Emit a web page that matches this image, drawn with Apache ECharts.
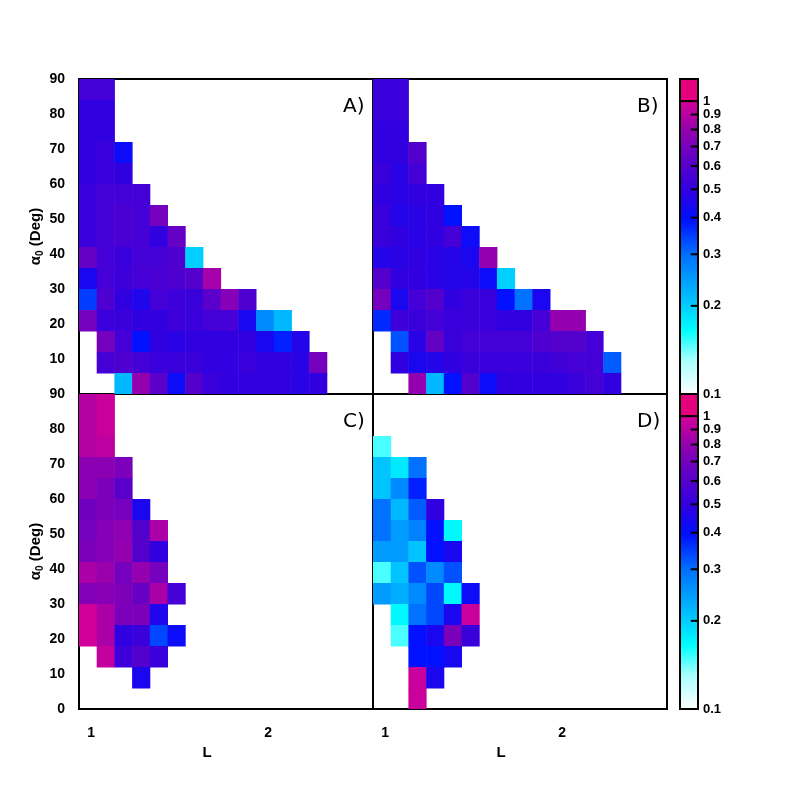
<!DOCTYPE html>
<html><head><meta charset="utf-8">
<script src="https://cdn.jsdelivr.net/npm/echarts@6/dist/echarts.min.js"></script>
<style>html,body{margin:0;padding:0;background:#fff}#c{width:788px;height:788px}</style>
</head><body><div id="c"></div>
<script>
// Bins: L from L0 in steps of dL (columns), alpha0 in steps of dA degrees (rows, 0 = 0-6 deg)
const L0 = 0.932, dL = 0.1, dA = 6;
const panelLabels = ['A)', 'B)', 'C)', 'D)'];
const xTickLabels = [1, 2];
const yTickLabels = [0, 10, 20, 30, 40, 50, 60, 70, 80, 90];
const colorbarTicks = [0.1, 0.2, 0.3, 0.4, 0.5, 0.6, 0.7, 0.8, 0.9, 1];
// each row: [rowIndex, firstColumn, values...]
const panelA = [
 [14,0,0.55,0.55],[13,0,0.5,0.5],[12,0,0.5,0.5],[11,0,0.5,0.52,0.42],[10,0,0.5,0.52,0.5],
 [9,0,0.52,0.55,0.55,0.55],[8,0,0.52,0.55,0.57,0.55,0.7],[7,0,0.52,0.55,0.57,0.55,0.5,0.65],
 [6,0,0.65,0.55,0.52,0.55,0.55,0.58,0.2],[5,0,0.45,0.55,0.53,0.55,0.57,0.58,0.6,0.85],
 [4,0,0.35,0.58,0.5,0.46,0.55,0.53,0.52,0.62,0.75,0.58],
 [3,0,0.7,0.52,0.52,0.5,0.5,0.53,0.52,0.55,0.55,0.45,0.27,0.22],
 [2,1,0.7,0.55,0.4,0.5,0.48,0.5,0.5,0.5,0.5,0.45,0.38,0.47],
 [1,1,0.55,0.58,0.55,0.52,0.52,0.52,0.5,0.5,0.52,0.5,0.5,0.48,0.7],
 [0,2,0.22,0.8,0.62,0.42,0.6,0.52,0.5,0.5,0.5,0.5,0.48,0.5]
];
const panelB = [
 [14,0,0.52,0.52],[13,0,0.52,0.52],[12,0,0.5,0.5],[11,0,0.5,0.5,0.6],[10,0,0.52,0.48,0.55],
 [9,0,0.5,0.48,0.5,0.5],[8,0,0.52,0.47,0.48,0.5,0.4],[7,0,0.52,0.5,0.48,0.5,0.55,0.42],
 [6,0,0.47,0.48,0.5,0.48,0.47,0.45,0.8],[5,0,0.6,0.5,0.5,0.48,0.47,0.47,0.42,0.2],
 [4,0,0.7,0.45,0.55,0.6,0.5,0.52,0.52,0.4,0.3,0.45],
 [3,0,0.37,0.53,0.52,0.55,0.52,0.52,0.52,0.5,0.5,0.55,0.8,0.8],
 [2,1,0.33,0.48,0.65,0.52,0.55,0.55,0.55,0.55,0.58,0.6,0.6,0.55],
 [1,1,0.5,0.45,0.47,0.5,0.52,0.52,0.52,0.52,0.52,0.54,0.55,0.55,0.32],
 [0,2,0.8,0.22,0.4,0.6,0.42,0.5,0.5,0.5,0.5,0.52,0.55,0.5]
];
const panelC = [
 [14,0,0.9,0.97],[13,0,0.9,0.97],[12,0,0.9,0.93],[11,0,0.77,0.77,0.72],[10,0,0.77,0.72,0.62],
 [9,0,0.68,0.72,0.7,0.45],[8,0,0.7,0.75,0.78,0.6,0.87],[7,0,0.72,0.75,0.8,0.6,0.5],
 [6,0,0.87,0.82,0.7,0.8,0.7],[5,0,0.74,0.76,0.73,0.66,0.87,0.55],[4,0,1.0,0.87,0.72,0.72,0.46],
 [3,0,1.0,0.87,0.5,0.52,0.34,0.42],[2,1,0.95,0.53,0.6,0.52],[1,3,0.45]
];
const panelD = [
 [12,0,0.15],[11,0,0.21,0.18,0.3],[10,0,0.21,0.27,0.38],[9,0,0.3,0.22,0.32,0.5],
 [8,0,0.3,0.25,0.28,0.4,0.17],[7,0,0.25,0.25,0.21,0.4,0.45],[6,0,0.15,0.21,0.33,0.27,0.33],
 [5,0,0.25,0.23,0.27,0.34,0.17,0.42],[4,1,0.17,0.3,0.34,0.45,0.97],[3,1,0.15,0.4,0.45,0.72,0.52],
 [2,2,0.4,0.4,0.44],[1,2,0.97,0.45],[0,2,0.97]
];
const panels = [panelA, panelB, panelC, panelD];

const stops = [[0,'#ffffff'],[0.12,'#a8ffff'],[0.22,'#00ffff'],[0.32,'#00c4ff'],[0.48,'#0070ff'],
 [0.6,'#0010ff'],[0.7,'#3200e0'],[0.8,'#5e00c8'],[0.9,'#9200b0'],[1,'#d2009a']];
function hex(c){return [1,3,5].map(i=>parseInt(c.substr(i,2),16));}
function colorOf(v){
  const t = Math.log10(v) + 1;
  if (t > 1.001) return '#e6007e';
  if (t <= 0) return '#ffffff';
  for (let i=1;i<stops.length;i++){
    if (t <= stops[i][0]){
      const a=stops[i-1], b=stops[i], f=(t-a[0])/(b[0]-a[0]);
      const ca=hex(a[1]), cb=hex(b[1]);
      return 'rgb('+ca.map((x,k)=>Math.round(x+(cb[k]-x)*f)).join(',')+')';
    }
  }
  return stops[stops.length-1][1];
}
function toData(rows){
  const out=[];
  rows.forEach(r=>{ for(let k=2;k<r.length;k++) out.push([r[1]+k-2, r[0], r[k]]); });
  return out;
}
const font = 'Liberation Sans';
const gridPos = [[79,79],[373,79],[79,394],[373,394]];
const grids=[], xAxes=[], yAxes=[], series=[], titles=[];
gridPos.forEach((p,i)=>{
  grids.push({left:p[0],top:p[1],width:294,height:315,show:true,borderColor:'#000',borderWidth:2,backgroundColor:'#fff',z:0});
  const bottom = i>=2, left = i%2===0;
  xAxes.push({gridIndex:i,type:'value',min:L0,max:L0+294/177,
    axisLine:{show:false},splitLine:{show:false},axisTick:{show:false},
    axisLabel:{show:bottom,customValues:xTickLabels,formatter:v=>String(Math.round(v)),margin:17,
      color:'#000',fontFamily:font,fontWeight:'bold',fontSize:14},
    name:bottom?'L':'',nameLocation:'middle',nameGap:36,
    nameTextStyle:{color:'#000',fontFamily:font,fontWeight:'bold',fontSize:15,padding:[0,38,0,0]}});
  yAxes.push({gridIndex:i,type:'value',min:0,max:90,
    axisLine:{show:false},splitLine:{show:false},axisTick:{show:false},
    axisLabel:{show:left,customValues:i===0?yTickLabels.slice(1):yTickLabels,margin:14,
      color:'#000',fontFamily:font,fontWeight:'bold',fontSize:14},
    name:left?'{a|α}{s|0} (Deg)':'',nameLocation:'middle',nameGap:34,
    nameTextStyle:{color:'#000',fontFamily:font,fontWeight:'bold',fontSize:15,
      rich:{a:{fontFamily:font,fontWeight:'bold',fontSize:15},s:{fontFamily:font,fontWeight:'bold',fontSize:10,verticalAlign:'bottom',padding:[8,0,0,0]}}}});
  series.push({type:'custom',xAxisIndex:i,yAxisIndex:i,data:toData(panels[i]),clip:true,
    renderItem:(params,api)=>{
      const c=api.value(0), r=api.value(1), v=api.value(2);
      const a=api.coord([L0+c*dL, r*dA]), b=api.coord([L0+(c+1)*dL,(r+1)*dA]);
      return {type:'rect',shape:{x:a[0],y:b[1],width:b[0]-a[0]+0.5,height:a[1]-b[1]+0.5},style:{fill:colorOf(v)}};
    }});
  titles.push({text:panelLabels[i],left:p[0]+259,top:p[1]+13,
    textStyle:{fontFamily:'DejaVu Sans',fontSize:20,fontWeight:'normal',color:'#000'}});
});
// colorbars
const cbMax = Math.log10(1.19);
const cbLevels=[]; for(let l=-1;l<cbMax;l+=0.004) cbLevels.push([+l.toFixed(3)]);
[79,394].forEach((top,j)=>{
  const gi=4+j;
  grids.push({left:680,top:top,width:18,height:315,show:true,borderColor:'#000',borderWidth:2,z:3});
  xAxes.push({gridIndex:gi,type:'value',min:0,max:1,show:false});
  yAxes.push({gridIndex:gi,type:'value',min:-1,max:cbMax,position:'right',
    axisLine:{show:false},splitLine:{show:false},axisTick:{show:false},
    axisLabel:{customValues:colorbarTicks.map(Math.log10),formatter:v=>String(Math.round(Math.pow(10,v)*10)/10),
      hideOverlap:false,
      margin:5,color:'#000',fontFamily:font,fontSize:13,fontWeight:'bold'}});
  series.push({type:'custom',xAxisIndex:gi,yAxisIndex:gi,data:cbLevels,clip:true,
    renderItem:(params,api)=>{
      const l=api.value(0);
      const a=api.coord([0,l]), b=api.coord([1,Math.min(l+0.004,cbMax)]);
      return {type:'rect',shape:{x:a[0],y:b[1],width:b[0]-a[0],height:a[1]-b[1]+1},style:{fill:colorOf(Math.pow(10,l+0.002))}};
    }});
  // tick marks inside the colour bar (full-width line at 1)
  series.push({type:'custom',xAxisIndex:gi,yAxisIndex:gi,z:5,data:colorbarTicks.map(v=>[Math.log10(v)]),
    renderItem:(params,api)=>{
      const l=api.value(0);
      const full = Math.abs(l)<1e-6;
      const a=api.coord([full?0:0.6,l]), b=api.coord([1.05,l]);
      return {type:'line',shape:{x1:a[0],y1:a[1],x2:b[0],y2:b[1]},style:{stroke:'#000',lineWidth:2}};
    }});
});
const chart = echarts.init(document.getElementById('c'),null,{renderer:'canvas'});
chart.setOption({animation:false,backgroundColor:'#fff',title:titles,grid:grids,xAxis:xAxes,yAxis:yAxes,series:series});
</script></body></html>
